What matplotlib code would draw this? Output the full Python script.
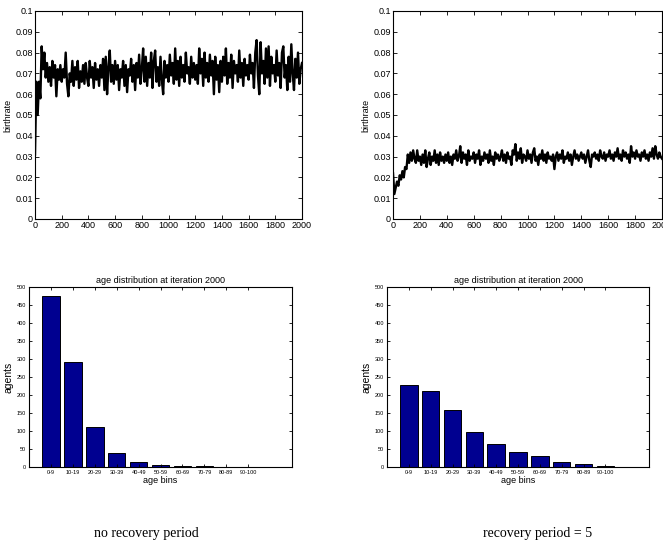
import numpy as np
import matplotlib
matplotlib.use("Agg")
import matplotlib.pyplot as plt

# -----------------------------------
# DATA
# -----------------------------------

# birthrate every 10 iterations, in thousandths
birth_no_recovery = [
    31, 66, 50, 66, 58,
    83, 72, 80, 68, 75, 66, 73, 64, 76, 68, 74, 59, 72, 67, 74,
    66, 72, 68, 80, 65, 59, 70, 66, 76, 64, 73, 67, 76, 63, 71, 66, 74, 65, 75, 68,
    64, 76, 68, 73, 63, 75, 67, 72, 64, 74, 68, 77, 62, 78, 60, 73, 81, 66, 74, 65,
    76, 67, 74, 62, 72, 68, 76, 64, 74, 61, 72, 69, 77, 66, 74, 62, 75, 68, 79, 65,
    72, 82, 66, 78, 64, 75, 68, 80, 63, 76, 81, 66, 73, 64, 78, 67, 60, 76, 68, 74,
    66, 79, 69, 75, 65, 82, 67, 76, 64, 78, 68, 74, 66, 80, 70, 73, 65, 78, 68, 75,
    67, 74, 65, 82, 70, 77, 64, 80, 68, 75, 66, 79, 69, 76, 60, 78, 67, 74, 61, 76,
    66, 78, 69, 82, 65, 75, 68, 79, 63, 76, 70, 74, 66, 81, 68, 75, 64, 77, 69, 74,
    67, 79, 70, 75, 63, 80, 86, 69, 60, 85, 70, 76, 65, 82, 68, 83, 64, 78, 70, 74,
    66, 81, 69, 75, 63, 80, 83, 68, 74, 62, 78, 66, 84, 70, 62, 77, 68, 80, 65, 72,
    75,
]

birth_recovery5 = [
    22, 12, 15, 18, 16,
    21, 19, 23, 20, 25, 24, 31, 27, 32, 28, 33, 29, 27, 33, 28,
    30, 26, 31, 27, 33, 25, 29, 32, 26, 30, 28, 33, 27, 31, 26, 32, 28, 30, 27, 31,
    28, 32, 27, 30, 26, 31, 29, 33, 28, 30, 35, 27, 32, 29, 31, 26, 33, 28, 30, 29,
    32, 27, 31, 29, 33, 26, 30, 28, 32, 29, 31, 27, 33, 28, 30, 26, 32, 29, 31, 28,
    30, 33, 28, 31, 27, 32, 29, 30, 26, 33, 31, 36, 28, 32, 29, 34, 27, 31, 30, 28,
    33, 29, 31, 27, 32, 34, 28, 30, 26, 31, 29, 33, 28, 31, 27, 32, 29, 30, 28, 31,
    24, 30, 32, 28, 31, 29, 33, 27, 30, 29, 32, 28, 31, 26, 30, 33, 29, 31, 28, 30,
    32, 29, 31, 27, 30, 33, 28, 25, 31, 30, 32, 29, 31, 28, 33, 30, 29, 32, 28, 31,
    30, 33, 29, 31, 28, 32, 30, 34, 29, 31, 28, 33, 30, 32, 29, 31, 27, 35, 30, 32,
    29, 33, 30, 31, 28, 32, 30, 33, 29, 31, 28, 32, 30, 34, 29, 35, 31, 29, 32, 30,
    29,
]

age_bins = ["0-9", "10-19", "20-29", "30-39", "40-49", "50-59", "60-69",
            "70-79", "80-89", "90-100"]
agents_no_recovery = [475, 293, 110, 38, 13, 5, 4, 2, 1, 1]
agents_recovery5 = [228, 210, 157, 98, 63, 41, 30, 14, 7, 3]

captions = ["no recovery period", "recovery period = 5"]

# -----------------------------------
# FIGURE
# -----------------------------------

plt.rcParams["font.family"] = "Liberation Sans"
plt.rcParams["xtick.direction"] = "in"
plt.rcParams["ytick.direction"] = "in"
plt.rcParams["xtick.top"] = True
plt.rcParams["ytick.right"] = True

W, H = 663, 546
fig = plt.figure(figsize=(W / 100, H / 100), dpi=100)


def px_axes(left, top, right, bottom):
    return fig.add_axes([left / W, 1 - bottom / H, (right - left) / W, (bottom - top) / H])


def birth_plot(ax, values):
    y = np.array(values) / 1000.0
    x = np.arange(len(y)) * 10
    ax.plot(x, y, color="black", linewidth=1.7)
    ax.set_xlim(0, 2000)
    ax.set_ylim(0, 0.1)
    ax.set_xticks(np.arange(0, 2001, 200))
    ax.set_yticks(np.arange(0, 0.101, 0.01))
    ax.set_yticklabels(["0"] + ["%.2f" % v for v in np.arange(0.01, 0.095, 0.01)] + ["0.1"])
    ax.tick_params(labelsize=6.5, length=3, width=0.6, pad=1.5)
    ax.set_ylabel("birthrate", fontsize=6.5, labelpad=2)
    for s in ax.spines.values():
        s.set_linewidth(0.8)


def age_plot(ax, values):
    pos = np.arange(1, len(values) + 1)
    ax.bar(pos, values, width=0.8, color="#000090", edgecolor="black", linewidth=0.7)
    ax.set_xlim(0, 12)
    ax.set_ylim(0, 500)
    ax.set_xticks(pos)
    ax.set_xticklabels(age_bins)
    ax.set_yticks(np.arange(0, 501, 50))
    ax.tick_params(labelsize=4, length=2.5, width=0.6, pad=2)
    ax.set_title("age distribution at iteration 2000", fontsize=6.5, pad=3)
    ax.set_xlabel("age bins", fontsize=6.5, labelpad=1)
    ax.set_ylabel("agents", fontsize=7.5, labelpad=2)
    for s in ax.spines.values():
        s.set_linewidth(0.8)


ax1 = px_axes(35, 11, 302, 219)
birth_plot(ax1, birth_no_recovery)

ax2 = px_axes(393, 11, 662, 219)
birth_plot(ax2, birth_recovery5)

ax3 = px_axes(29, 287, 292, 467)
age_plot(ax3, agents_no_recovery)

ax4 = px_axes(387, 287, 649, 467)
age_plot(ax4, agents_recovery5)

fig.text(146 / W, 1 - 533 / H, captions[0], fontsize=10, family="Liberation Serif",
         ha="center", va="center")
fig.text(538 / W, 1 - 533 / H, captions[1], fontsize=10, family="Liberation Serif",
         ha="center", va="center")

plt.savefig("out.png", dpi=100)
plt.close()
